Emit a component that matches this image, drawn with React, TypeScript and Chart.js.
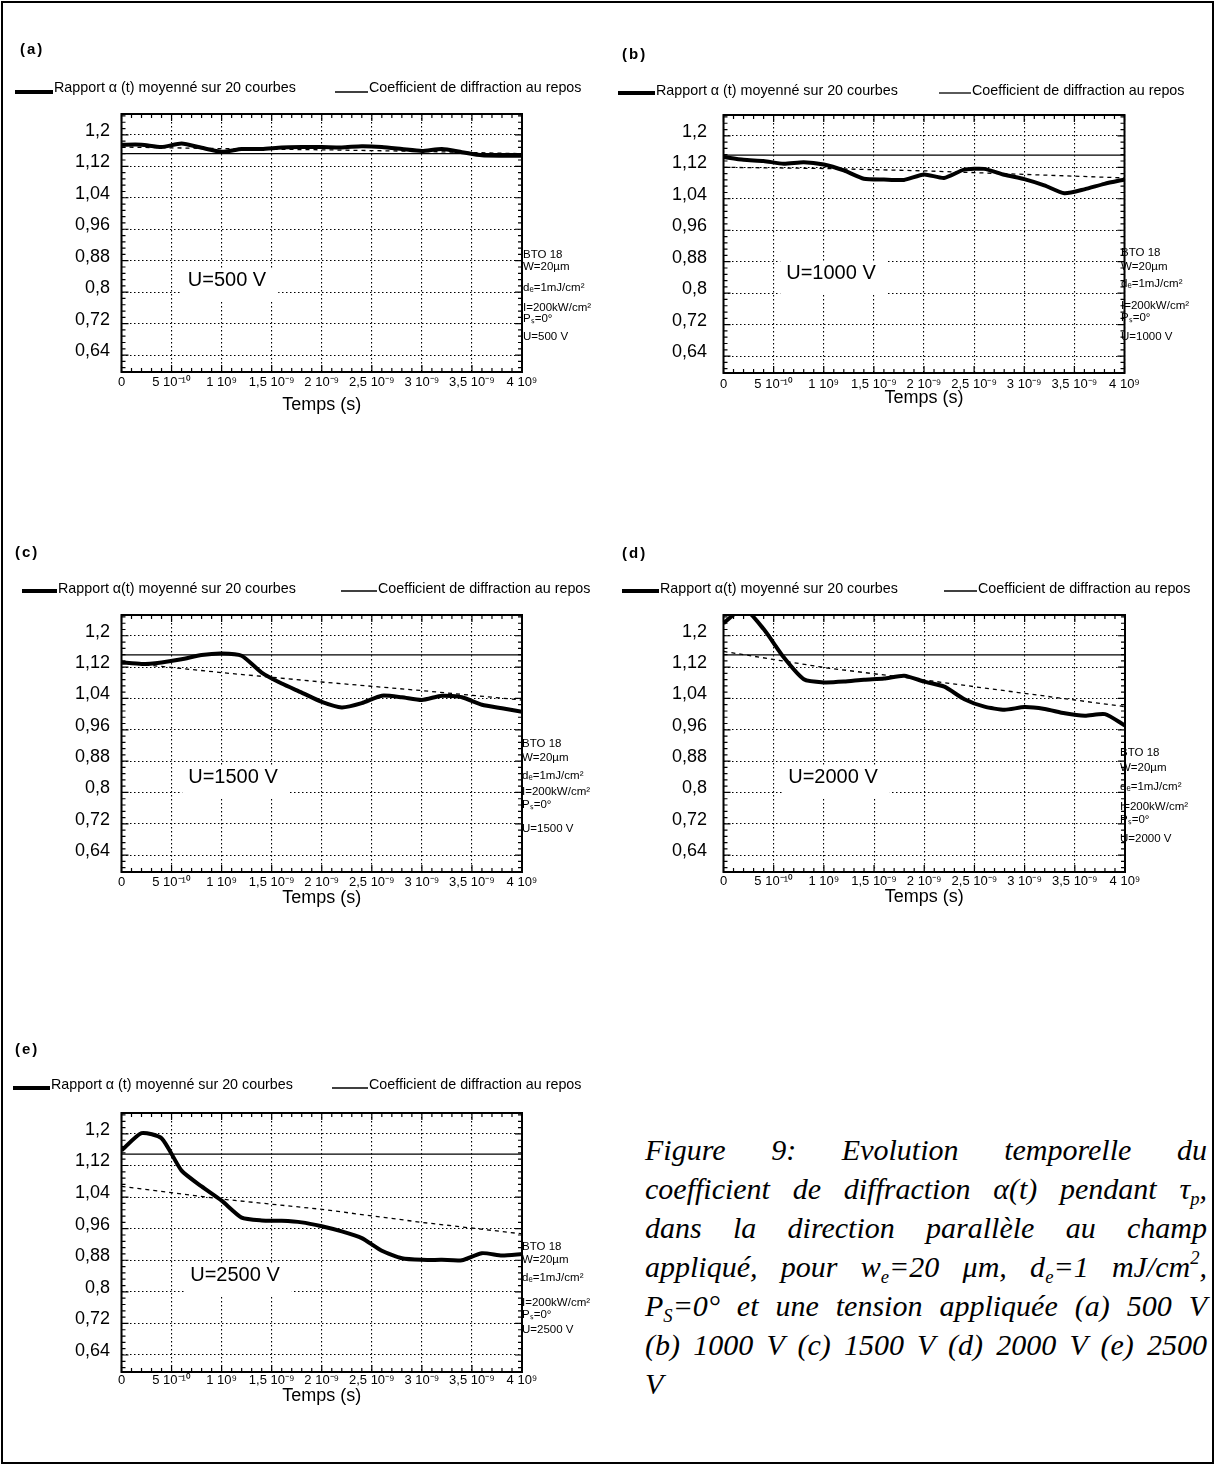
import React, { useEffect, useRef } from "react";
import { Chart, registerables } from "chart.js";

Chart.register(...registerables);

const SANS = "'Liberation Sans', Arial, Helvetica, sans-serif";
const SERIF = "'Liberation Serif', 'Times New Roman', serif";

// ---------------- Data ----------------
const TIME_S = [0, 2e-10, 4e-10, 6e-10, 8e-10, 1e-9, 1.2e-9, 1.4e-9, 1.6e-9, 1.8e-9, 2e-9, 2.2e-9, 2.4e-9, 2.6e-9, 2.8e-9, 3e-9, 3.2e-9, 3.4e-9, 3.6e-9, 3.8e-9, 4e-9];

const ALPHA_500V = [1.175, 1.175, 1.169, 1.178, 1.167, 1.157, 1.164, 1.164, 1.168, 1.169, 1.169, 1.168, 1.171, 1.169, 1.164, 1.159, 1.164, 1.156, 1.148, 1.147, 1.147];
const ALPHA_1000V = [1.146, 1.139, 1.136, 1.129, 1.133, 1.127, 1.112, 1.091, 1.089, 1.088, 1.102, 1.093, 1.114, 1.116, 1.101, 1.09, 1.074, 1.054, 1.064, 1.078, 1.089];
const ALPHA_1500V = [1.132, 1.128, 1.132, 1.14, 1.151, 1.155, 1.149, 1.106, 1.078, 1.055, 1.031, 1.017, 1.028, 1.047, 1.043, 1.036, 1.047, 1.043, 1.024, 1.015, 1.006];
const ALPHA_2000V = [1.232, 1.27, 1.217, 1.145, 1.089, 1.081, 1.083, 1.088, 1.091, 1.098, 1.083, 1.07, 1.038, 1.019, 1.011, 1.018, 1.013, 1.002, 0.996, 1.0, 0.971];
const ALPHA_2500V = [1.158, 1.202, 1.189, 1.107, 1.067, 1.031, 0.988, 0.981, 0.98, 0.976, 0.966, 0.953, 0.936, 0.904, 0.885, 0.881, 0.881, 0.88, 0.898, 0.892, 0.896];

const REST_TIME_S = [0, 4e-9];
const REST_500V = [1.152, 1.152];
const REST_1000V = [1.151, 1.151];
const REST_1500V = [1.151, 1.151];
const REST_2000V = [1.151, 1.151];
const REST_2500V = [1.149, 1.149];

const FIT_TIME_S = [0, 1e-9, 2e-9, 3e-9, 4e-9];
const FIT_500V = [1.169, 1.165, 1.162, 1.158, 1.152];
const FIT_1000V = [1.12, 1.117, 1.111, 1.102, 1.093];
const FIT_1500V = [1.132, 1.106, 1.082, 1.06, 1.036];
const FIT_2000V = [1.16, 1.119, 1.087, 1.053, 1.019];
const FIT_2500V = [1.067, 1.035, 1.009, 0.976, 0.947];

const X_TICK_VALUES = [0, 5e-10, 1e-9, 1.5e-9, 2e-9, 2.5e-9, 3e-9, 3.5e-9, 4e-9];
const X_TICK_LABELS = ["0", "5 10\u207B\u00B9\u2070", "1 10\u2079", "1,5 10\u207B\u2079", "2 10\u207B\u2079", "2,5 10\u207B\u2079", "3 10\u207B\u2079", "3,5 10\u207B\u2079", "4 10\u2079"];
const Y_TICK_VALUES = [0.64, 0.72, 0.8, 0.88, 0.96, 1.04, 1.12, 1.2];
const Y_TICK_LABELS = ["0,64", "0,72", "0,8", "0,88", "0,96", "1,04", "1,12", "1,2"];

const PANEL_LETTERS = ["(a)", "(b)", "(c)", "(d)", "(e)"];
const VOLTAGES = ["500", "1000", "1500", "2000", "2500"];
const LEGEND_ALPHA = [
  "Rapport \u03B1 (t) moyenn\u00E9 sur 20 courbes",
  "Rapport \u03B1 (t) moyenn\u00E9 sur 20 courbes",
  "Rapport \u03B1(t) moyenn\u00E9 sur 20 courbes",
  "Rapport \u03B1(t) moyenn\u00E9 sur 20 courbes",
  "Rapport \u03B1 (t) moyenn\u00E9 sur 20 courbes",
];
const LEGEND_REST = "Coefficient de diffraction au repos";
const SAMPLE_NOTES = ["BTO 18", "W=20\u00B5m", "d\u2091=1mJ/cm\u00B2", "I=200kW/cm\u00B2", "P\u209B=0\u00B0"];
const X_TITLE = "Temps (s)";

const SERIES = [
  { alpha: ALPHA_500V, rest: REST_500V, fit: FIT_500V },
  { alpha: ALPHA_1000V, rest: REST_1000V, fit: FIT_1000V },
  { alpha: ALPHA_1500V, rest: REST_1500V, fit: FIT_1500V },
  { alpha: ALPHA_2000V, rest: REST_2000V, fit: FIT_2000V },
  { alpha: ALPHA_2500V, rest: REST_2500V, fit: FIT_2500V },
];

// ---------------- Layout (page coordinates) ----------------
type Layout = {
  cx: number; cy: number; cw: number; ch: number;
  pl: number; pt: number; pr: number; pb: number;
  yPad: number; xPad: number; axisH: number;
  titleX: number; titleY: number;
  legY: number; lineY: number;
  thick: [number, number]; text1X: number; thin: [number, number]; text2X: number;
  uX: number; uY: number;
  noteX: number; noteYs: number[];
};

const LAYOUTS: Layout[] = [
  { cx: 0, cy: 30, cw: 600, ch: 395, pl: 121.5, pt: 114, pr: 522, pb: 372, yPad: 11.5, xPad: 3, axisH: 44,
    titleX: 20, titleY: 50, legY: 88, lineY: 92, thick: [15, 53], text1X: 54, thin: [335, 368], text2X: 369,
    uX: 227, uY: 280, noteX: 523, noteYs: [255, 267, 288, 308, 319, 337] },
  { cx: 600, cy: 30, cw: 612, ch: 390, pl: 723.5, pt: 115, pr: 1124.5, pb: 373, yPad: 16.5, xPad: 4, axisH: 36,
    titleX: 622, titleY: 55, legY: 91, lineY: 93, thick: [618, 655], text1X: 656, thin: [939, 971], text2X: 972,
    uX: 831, uY: 273, noteX: 1121, noteYs: [253, 267, 284, 306, 318, 337] },
  { cx: 0, cy: 530, cw: 600, ch: 380, pl: 121.5, pt: 615, pr: 522, pb: 872, yPad: 11.5, xPad: 3, axisH: 37,
    titleX: 15, titleY: 553, legY: 589, lineY: 591, thick: [22, 57], text1X: 58, thin: [341, 377], text2X: 378,
    uX: 233, uY: 777, noteX: 522, noteYs: [744, 758, 776, 792, 805, 829] },
  { cx: 600, cy: 530, cw: 612, ch: 380, pl: 723.5, pt: 615, pr: 1125, pb: 872, yPad: 16.5, xPad: 2, axisH: 36,
    titleX: 622, titleY: 554, legY: 589, lineY: 591, thick: [622, 659], text1X: 660, thin: [944, 977], text2X: 978,
    uX: 833, uY: 777, noteX: 1120, noteYs: [753, 768, 787, 807, 820, 839] },
  { cx: 0, cy: 1030, cw: 600, ch: 380, pl: 121.5, pt: 1113, pr: 522, pb: 1372, yPad: 11.5, xPad: 1, axisH: 35,
    titleX: 15, titleY: 1050, legY: 1085, lineY: 1088, thick: [13, 50], text1X: 51, thin: [332, 368], text2X: 369,
    uX: 235, uY: 1275, noteX: 522, noteYs: [1247, 1260, 1278, 1303, 1315, 1330] },
];

const Y_MIN = 0.597;
const Y_MAX = 1.253;
const Y_AXIS_W = 60;

function makeDecor(idx: number) {
  const L = LAYOUTS[idx];
  return {
    id: `decor${idx}`,
    beforeDatasetsDraw(chart: any) {
      const ctx = chart.ctx as CanvasRenderingContext2D;
      ctx.save();
      ctx.font = `20px ${SANS}`;
      const txt = `U=${VOLTAGES[idx]} V`;
      const w = ctx.measureText(txt).width;
      const x = L.uX - L.cx;
      const y = L.uY - L.cy;
      ctx.fillStyle = "#fff";
      ctx.fillRect(x - w / 2 - 6, y - 12, w + 18, 34);
      ctx.fillStyle = "#000";
      ctx.textAlign = "center";
      ctx.textBaseline = "middle";
      ctx.fillText(txt, x, y);
      ctx.restore();
    },
    afterDraw(chart: any) {
      const ctx = chart.ctx as CanvasRenderingContext2D;
      const ca = chart.chartArea;
      const xs = chart.scales.x;
      const ys = chart.scales.y;
      ctx.save();
      ctx.setLineDash([]);
      ctx.strokeStyle = "#000";
      ctx.lineWidth = 1.2;
      ctx.beginPath();
      for (let k = 0; k <= 40; k++) {
        const px = xs.getPixelForValue(k * 1e-10);
        const len = k % 5 === 0 ? 7 : 4;
        ctx.moveTo(px, ca.bottom);
        ctx.lineTo(px, ca.bottom - len);
        ctx.moveTo(px, ca.top);
        ctx.lineTo(px, ca.top + len);
      }
      for (let k = -2; k <= 38; k++) {
        const py = ys.getPixelForValue(0.64 + k * 0.016);
        const len = k % 5 === 0 ? 7 : 4;
        ctx.moveTo(ca.left, py);
        ctx.lineTo(ca.left + len, py);
        ctx.moveTo(ca.right, py);
        ctx.lineTo(ca.right - len, py);
      }
      ctx.stroke();
      ctx.lineWidth = 2;
      ctx.strokeRect(ca.left, ca.top, ca.right - ca.left, ca.bottom - ca.top);

      ctx.fillStyle = "#000";
      ctx.textBaseline = "middle";
      ctx.textAlign = "left";
      // panel letter
      ctx.font = `bold 15px ${SANS}`;
      (ctx as any).letterSpacing = "2px";
      ctx.fillText(PANEL_LETTERS[idx], L.titleX - L.cx, L.titleY - L.cy);
      (ctx as any).letterSpacing = "0px";
      // legend
      ctx.lineCap = "butt";
      ctx.lineWidth = 4;
      ctx.beginPath();
      ctx.moveTo(L.thick[0] - L.cx, L.lineY - L.cy);
      ctx.lineTo(L.thick[1] - L.cx, L.lineY - L.cy);
      ctx.stroke();
      ctx.lineWidth = 1.3;
      ctx.beginPath();
      ctx.moveTo(L.thin[0] - L.cx, L.lineY - L.cy);
      ctx.lineTo(L.thin[1] - L.cx, L.lineY - L.cy);
      ctx.stroke();
      ctx.font = `14.3px ${SANS}`;
      ctx.fillText(LEGEND_ALPHA[idx], L.text1X - L.cx, L.legY - L.cy);
      ctx.fillText(LEGEND_REST, L.text2X - L.cx, L.legY - L.cy);
      // sample notes
      ctx.font = `11.5px ${SANS}`;
      const notes = [...SAMPLE_NOTES, `U=${VOLTAGES[idx]} V`];
      notes.forEach((n, i) => {
        ctx.fillText(n, L.noteX - L.cx, L.noteYs[i] - L.cy);
      });
      ctx.restore();
    },
  };
}

function Panel({ idx }: { idx: number }) {
  const ref = useRef<HTMLCanvasElement>(null);
  const L = LAYOUTS[idx];
  useEffect(() => {
    const canvas = ref.current;
    if (!canvas) return;
    const s = SERIES[idx];
    const chart = new Chart(canvas, {
      type: "line",
      data: {
        datasets: [
          {
            data: TIME_S.map((t, i) => ({ x: t, y: s.alpha[i] })),
            borderColor: "#000",
            borderWidth: 4,
            tension: 0.2,
            pointRadius: 0,
            clip: 0,
          } as any,
          {
            data: REST_TIME_S.map((t, i) => ({ x: t, y: s.rest[i] })),
            borderColor: "#000",
            borderWidth: 1.3,
            pointRadius: 0,
          },
          {
            data: FIT_TIME_S.map((t, i) => ({ x: t, y: s.fit[i] })),
            borderColor: "#000",
            borderWidth: 1.3,
            borderDash: [4, 4],
            pointRadius: 0,
          },
        ],
      },
      options: {
        animation: false,
        responsive: false,
        devicePixelRatio: 1,
        events: [],
        layout: {
          padding: {
            left: L.pl - L.cx - Y_AXIS_W,
            top: L.pt - L.cy,
            right: L.cx + L.cw - L.pr,
            bottom: L.cy + L.ch - L.pb - L.axisH,
          },
        },
        plugins: {
          legend: { display: false },
          tooltip: { enabled: false },
          title: { display: false },
        },
        scales: {
          x: {
            type: "linear",
            min: 0,
            max: 4e-9,
            afterBuildTicks: (axis: any) => {
              axis.ticks = X_TICK_VALUES.map((v) => ({ value: v }));
            },
            afterFit: (axis: any) => {
              axis.height = L.axisH;
            },
            ticks: {
              autoSkip: false,
              maxRotation: 0,
              padding: L.xPad,
              color: "#000",
              font: { family: SANS, size: 13 },
              callback: (_v: any, i: number) => X_TICK_LABELS[i],
            },
            grid: { color: "#000", lineWidth: 1.1, drawTicks: false },
            border: { display: false, dash: [1.5, 2.5] },
            title: {
              display: true,
              text: X_TITLE,
              color: "#000",
              font: { family: SANS, size: 18 },
              padding: 0,
            },
          },
          y: {
            type: "linear",
            min: Y_MIN,
            max: Y_MAX,
            afterBuildTicks: (axis: any) => {
              axis.ticks = Y_TICK_VALUES.map((v) => ({ value: v }));
            },
            afterFit: (axis: any) => {
              axis.width = Y_AXIS_W;
            },
            ticks: {
              autoSkip: false,
              padding: L.yPad,
              labelOffset: -4,
              color: "#000",
              font: { family: SANS, size: 18 },
              callback: (_v: any, i: number) => Y_TICK_LABELS[i],
            },
            grid: { color: "#000", lineWidth: 1.1, drawTicks: false },
            border: { display: false, dash: [1.5, 2.5] },
          },
        },
      } as any,
      plugins: [makeDecor(idx)],
    });
    return () => chart.destroy();
  }, [idx]);
  return (
    <div style={{ position: "absolute", left: L.cx, top: L.cy, width: L.cw, height: L.ch }}>
      <canvas ref={ref} width={L.cw} height={L.ch} style={{ width: L.cw, height: L.ch }} />
    </div>
  );
}

function Sub({ children }: { children: React.ReactNode }) {
  return <sub style={{ fontSize: "0.62em", verticalAlign: "-0.3em", lineHeight: 0 }}>{children}</sub>;
}
function Sup({ children }: { children: React.ReactNode }) {
  return <sup style={{ fontSize: "0.62em", verticalAlign: "0.7em", lineHeight: 0 }}>{children}</sup>;
}

function Caption() {
  const lines: React.ReactNode[] = [
    <>Figure 9: Evolution temporelle du</>,
    <>coefficient de diffraction {"\u03B1"}(t) pendant {"\u03C4"}<Sub>p</Sub>,</>,
    <>dans la direction parall{"\u00E8"}le au champ</>,
    <>appliqu{"\u00E9"}, pour w<Sub>e</Sub>=20 {"\u03BC"}m, d<Sub>e</Sub>=1 mJ/cm<Sup>2</Sup>,</>,
    <>P<Sub>S</Sub>=0{"\u00B0"} et une tension appliqu{"\u00E9"}e (a) 500 V</>,
    <>(b) 1000 V (c) 1500 V (d) 2000 V (e) 2500</>,
    <>V</>,
  ];
  return (
    <div
      style={{
        position: "absolute",
        left: 645,
        top: 1130,
        width: 562,
        fontFamily: SERIF,
        fontStyle: "italic",
        fontSize: 30,
        color: "#000",
      }}
    >
      {lines.map((l, i) => (
        <div
          key={i}
          style={{
            height: 39,
            lineHeight: "39px",
            textAlign: i < lines.length - 1 ? "justify" : "left",
            textAlignLast: i < lines.length - 1 ? "justify" : "left",
          } as any}
        >
          {l}
        </div>
      ))}
    </div>
  );
}

export default function App() {
  return (
    <div style={{ position: "absolute", left: 0, top: 0, width: 1216, height: 1466, background: "#fff", overflow: "hidden" }}>
      <div
        style={{
          position: "absolute",
          left: 1,
          top: 1,
          width: 1213,
          height: 1463,
          border: "2.5px solid #000",
          boxSizing: "border-box",
        }}
      />
      {LAYOUTS.map((_, i) => (
        <Panel key={i} idx={i} />
      ))}
      <Caption />
    </div>
  );
}
